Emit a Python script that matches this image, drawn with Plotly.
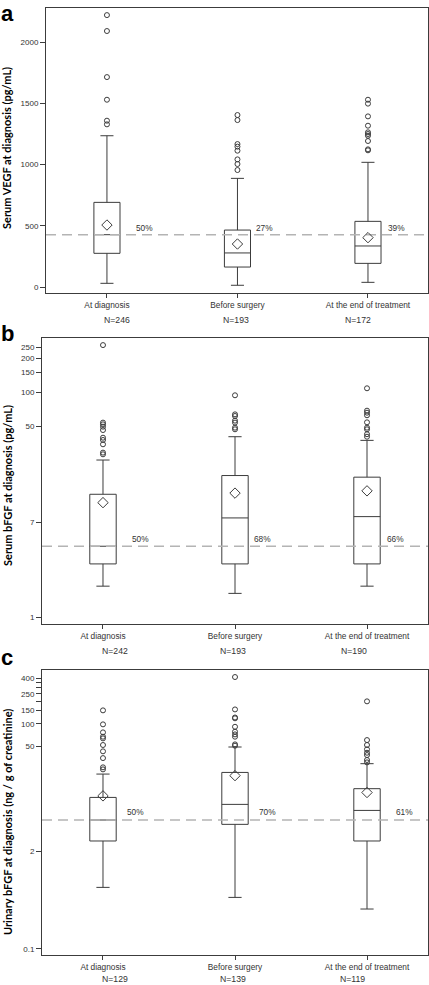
import numpy as np
import plotly.graph_objects as go

W, H = 429, 985

categories = ["At diagnosis", "Before surgery", "At the end of treatment"]

# ---------- Panel a: Serum VEGF (pg/mL) ----------
a_n = ["N=246", "N=193", "N=172"]
a_q1 = [275, 163, 193]
a_med = [427, 278, 335]
a_q3 = [691, 465, 536]
a_lo = [30, 14, 38]
a_hi = [1235, 887, 1018]
a_mean = [506, 351, 403]
a_out = [
    [2220, 2090, 1714, 1529, 1358, 1328],
    [1404, 1363, 1167, 1146, 1113, 1042, 1004, 955],
    [1529, 1497, 1393, 1317, 1263, 1249, 1235, 1192, 1124, 1116],
]
a_cut = 427
a_pct = ["50%", "27%", "39%"]
a_pct_y = 484
a_ticks = [0, 500, 1000, 1500, 2000]
a_ticktext = ["0", "500", "1000", "1500", "2000"]

# ---------- Panel b: Serum bFGF (pg/mL) ----------
b_n = ["N=242", "N=193", "N=190"]
b_q1 = [2.98, 2.98, 2.98]
b_med = [4.28, 7.64, 7.85]
b_q3 = [12.4, 18.2, 17.6]
b_lo = [1.89, 1.63, 1.89]
b_hi = [25.0, 40.3, 37.4]
b_mean = [10.45, 12.7, 13.3]
b_out = [
    [263, 53.8, 51.9, 49.5, 46.2, 39.5, 37.7, 34.5, 29.1, 28.1],
    [94.1, 63.7, 61.6, 56.0, 53.8, 48.5, 46.9],
    [108.6, 68.7, 65.9, 62.5, 54.1, 48.5, 46.9, 42.4, 40.3],
]
b_cut = 4.28
b_pct = ["50%", "68%", "66%"]
b_pct_y = 4.97
b_ticks = [1, 7, 50, 100, 150, 200, 250]
b_ticktext = ["1", "7", "50", "100", "150", "200", "250"]

# ---------- Panel c: Urinary bFGF (ng / g of creatinine) ----------
c_n = ["N=129", "N=139", "N=119"]
c_q1 = [2.73, 4.55, 2.73]
c_med = [5.2, 8.4, 6.98]
c_q3 = [10.4, 22.4, 13.6]
c_lo = [0.657, 0.483, 0.338]
c_hi = [21.3, 48.9, 29.3]
c_mean = [10.9, 20.3, 12.1]
c_out = [
    [150.6, 98, 76.6, 67.1, 63.7, 52, 42.8, 34.8, 26.2, 24.6],
    [419, 155, 121, 118, 91, 78.2, 72, 67.1, 53, 50.9],
    [198.6, 60.5, 52, 45.5, 41, 38.2, 32.8, 30.5],
]
c_cut = 5.2
c_pct = ["50%", "70%", "61%"]
c_pct_y = 6.57
c_ticks = [0.1, 2, 50, 100, 150, 200, 250, 300, 350, 400]
c_ticktext = ["0.1", "2", "50", "100", "150", "", "250", "", "", "400"]

titles = [
    "Serum VEGF at diagnosis (pg/mL)",
    "Serum bFGF at diagnosis (pg/mL)",
    "Urinary bFGF at diagnosis (ng / g of creatinine)",
]
letters = ["a", "b", "c"]

# ---------- layout constants (pixels) ----------
panels = [
    dict(q1=a_q1, med=a_med, q3=a_q3, lo=a_lo, hi=a_hi, mean=a_mean, out=a_out,
         cut=a_cut, pct=a_pct, pct_y=a_pct_y, n=a_n, ticks=a_ticks, ticktext=a_ticktext,
         log=False, yr=[-49, 2278], x0=46, top=8, bot=293, xr=[-0.467, 2.46],
         pct_dx=[0.207, 0.126, 0.138], n_dx=[0.077, -0.01, -0.08],
         n_y=320, title_c=148, letter_top=0),
    dict(q1=b_q1, med=b_med, q3=b_q3, lo=b_lo, hi=b_hi, mean=b_mean, out=b_out,
         cut=b_cut, pct=b_pct, pct_y=b_pct_y, n=b_n, ticks=b_ticks, ticktext=b_ticktext,
         log=True, yr=[-0.06, 2.483], x0=42, top=338, bot=624, xr=[-0.462, 2.462],
         pct_dx=[0.205, 0.129, 0.136], n_dx=[0.09, -0.015, -0.10],
         n_y=651, title_c=486, letter_top=320),
    dict(q1=c_q1, med=c_med, q3=c_q3, lo=c_lo, hi=c_hi, mean=c_mean, out=c_out,
         cut=c_cut, pct=c_pct, pct_y=c_pct_y, n=c_n, ticks=c_ticks, ticktext=c_ticktext,
         log=True, yr=[-1.084, 2.716], x0=42, top=670, bot=955, xr=[-0.462, 2.462],
         pct_dx=[0.167, 0.167, 0.205], n_dx=[0.09, -0.015, -0.11],
         n_y=979, title_c=822, letter_top=644),
]

LINE = "#3c3c3c"
TXT = "#333333"
FONT = "Liberation Sans"
DASH = dict(color="#b4b4b4", width=1.5, dash="10px,6px")
xpos = list(range(len(categories)))

fig = go.Figure()
annotations = []
layout = {}

for i, p in enumerate(panels):
    k = "" if i == 0 else str(i + 1)
    xa, ya = "x" + k, "y" + k
    # boxes
    fig.add_trace(go.Box(
        x=xpos, q1=p["q1"], median=p["med"], q3=p["q3"],
        lowerfence=p["lo"], upperfence=p["hi"],
        width=0.2, whiskerwidth=0.5, boxpoints=False,
        fillcolor="rgba(0,0,0,0)", line=dict(color=LINE, width=1),
        xaxis=xa, yaxis=ya, showlegend=False))
    # dashed cutoff line across full width
    fig.add_trace(go.Scatter(
        x=p["xr"], y=[p["cut"], p["cut"]], mode="lines", line=DASH,
        xaxis=xa, yaxis=ya, showlegend=False, hoverinfo="skip"))
    # outliers
    ox, oy = [], []
    for j, vals in enumerate(p["out"]):
        ox += [xpos[j]] * len(vals)
        oy += vals
    fig.add_trace(go.Scatter(
        x=ox, y=oy, mode="markers",
        marker=dict(symbol="circle-open", size=5, color=LINE, line=dict(width=1)),
        xaxis=xa, yaxis=ya, showlegend=False))
    # means
    fig.add_trace(go.Scatter(
        x=xpos, y=p["mean"], mode="markers",
        marker=dict(symbol="diamond-open", size=8, color=LINE, line=dict(width=1)),
        xaxis=xa, yaxis=ya, showlegend=False))

    d0 = 1 - p["bot"] / H
    d1 = 1 - p["top"] / H
    layout["xaxis" + k] = dict(
        domain=[p["x0"] / W, 428 / W], range=p["xr"], anchor=ya,
        tickvals=xpos, ticktext=categories, ticks="outside", ticklen=4,
        tickcolor=LINE, showline=True, mirror=True, linecolor=LINE, linewidth=1,
        showgrid=False, zeroline=False,
        tickfont=dict(family=FONT, size=8.3, color=TXT))
    layout["yaxis" + k] = dict(
        domain=[d0, d1], range=p["yr"], anchor=xa, type="log" if p["log"] else "linear",
        tickvals=p["ticks"], ticktext=p["ticktext"], ticks="outside", ticklen=5,
        tickcolor=LINE, showline=True, mirror=True, linecolor=LINE, linewidth=1,
        showgrid=False, zeroline=False,
        tickfont=dict(family=FONT, size=8, color=TXT))

    ylab = np.log10(p["pct_y"]) if p["log"] else p["pct_y"]
    for j, t in enumerate(p["pct"]):
        annotations.append(dict(
            x=xpos[j] + p["pct_dx"][j], y=ylab, xref=xa, yref=ya, text=t,
            showarrow=False, xanchor="left", yanchor="middle",
            font=dict(family=FONT, size=8.3, color=TXT)))
    for j, t in enumerate(p["n"]):
        annotations.append(dict(
            x=xpos[j] + p["n_dx"][j], y=1 - p["n_y"] / H, xref=xa, yref="paper",
            text=t, showarrow=False, xanchor="center", yanchor="middle",
            font=dict(family=FONT, size=8.7, color=TXT)))
    annotations.append(dict(
        x=7 / W, y=1 - p["title_c"] / H, xref="paper", yref="paper",
        text="<b>" + titles[i] + "</b>", textangle=-90, showarrow=False,
        xanchor="center", yanchor="middle",
        font=dict(family="Lato", size=11, color="#000000")))
    annotations.append(dict(
        x=0, y=1 - p["letter_top"] / H, xref="paper", yref="paper",
        text="<b>" + letters[i] + "</b>", showarrow=False, borderpad=0,
        xanchor="left", yanchor="top",
        font=dict(family=FONT, size=22, color="#000000")))

fig.update_layout(
    width=W, height=H, margin=dict(l=0, r=0, t=0, b=0),
    paper_bgcolor="white", plot_bgcolor="white",
    annotations=annotations, **layout)

fig.write_html(
    "out.html",
    config={"displayModeBar": False},
    post_script="document.body.style.margin='0';document.body.style.overflow='hidden';")
